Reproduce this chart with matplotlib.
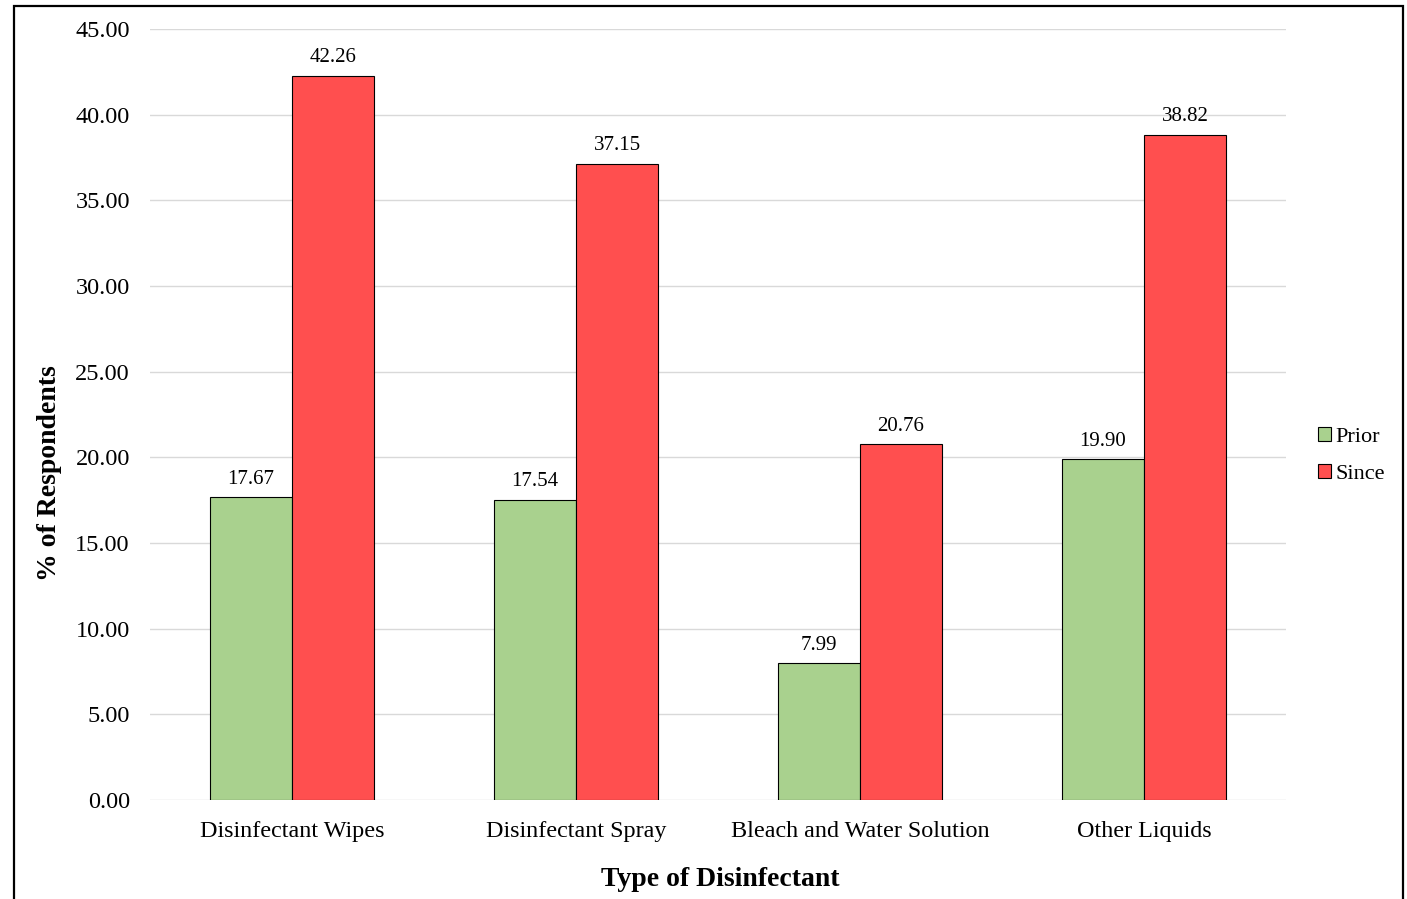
import numpy as np
import matplotlib.pyplot as plt
from matplotlib.patches import Rectangle

plt.rcParams['font.family'] = ['Liberation Serif', 'DejaVu Serif']

# Data
categories = ['Disinfectant Wipes', 'Disinfectant Spray', 'Bleach and Water Solution', 'Other Liquids']
prior = [17.67, 17.54, 7.99, 19.90]
since = [42.26, 37.15, 20.76, 38.82]
yticks = np.arange(0, 50, 5)

green, red = '#A9D18E', '#FF4F4F'
bw = 0.289

fig = plt.figure(figsize=(14.07, 8.99), dpi=100)
ax = fig.add_axes([0.1066, 0.1101, 0.8074, 0.8576])

x = np.arange(len(categories))
b1 = ax.bar(x - bw/2, prior, bw, color=green, edgecolor='black', linewidth=0.8, label='Prior', zorder=3)
b2 = ax.bar(x + bw/2, since, bw, color=red, edgecolor='black', linewidth=0.8, label='Since', zorder=3)

for bars in (b1, b2):
    for b in bars:
        ax.text(b.get_x() + b.get_width()/2, b.get_height() + 0.5, f'{b.get_height():.2f}',
                ha='center', va='bottom', fontsize=15)

ax.set_xlim(-0.5, len(categories) - 0.5)
ax.set_ylim(0, 45)
ax.set_yticks(yticks)
ax.set_yticklabels([f'{v:.2f}' for v in yticks], fontsize=17.5)
ax.set_xticks(x)
ax.set_xticklabels(categories, fontsize=17.4)
ax.tick_params(axis='y', length=0, pad=14.5)
ax.tick_params(axis='x', length=0, pad=15)
ax.grid(axis='y', color='#D9D9D9', linewidth=1, zorder=0)
for s in ax.spines.values():
    s.set_visible(False)

ax.set_xlabel('Type of Disinfectant', fontsize=20, fontweight='bold')
ax.xaxis.set_label_coords(0.502, -0.087)
ax.set_ylabel('% of Respondents', fontsize=20, fontweight='bold')
ax.yaxis.set_label_coords(-0.0775, 0.424)

ax.legend(loc='center left', bbox_to_anchor=(1.020, 0.447), frameon=False, fontsize=16,
          handlelength=0.6, handleheight=0.6, handletextpad=0.2, labelspacing=0.75,
          borderaxespad=0)

fig.patches.append(Rectangle((14/1407, -0.02), (1403-14)/1407, 0.02 + (899-6)/899,
                             transform=fig.transFigure, fill=False, edgecolor='black',
                             linewidth=1.6, zorder=10))

fig.savefig('out.png', dpi=100)
